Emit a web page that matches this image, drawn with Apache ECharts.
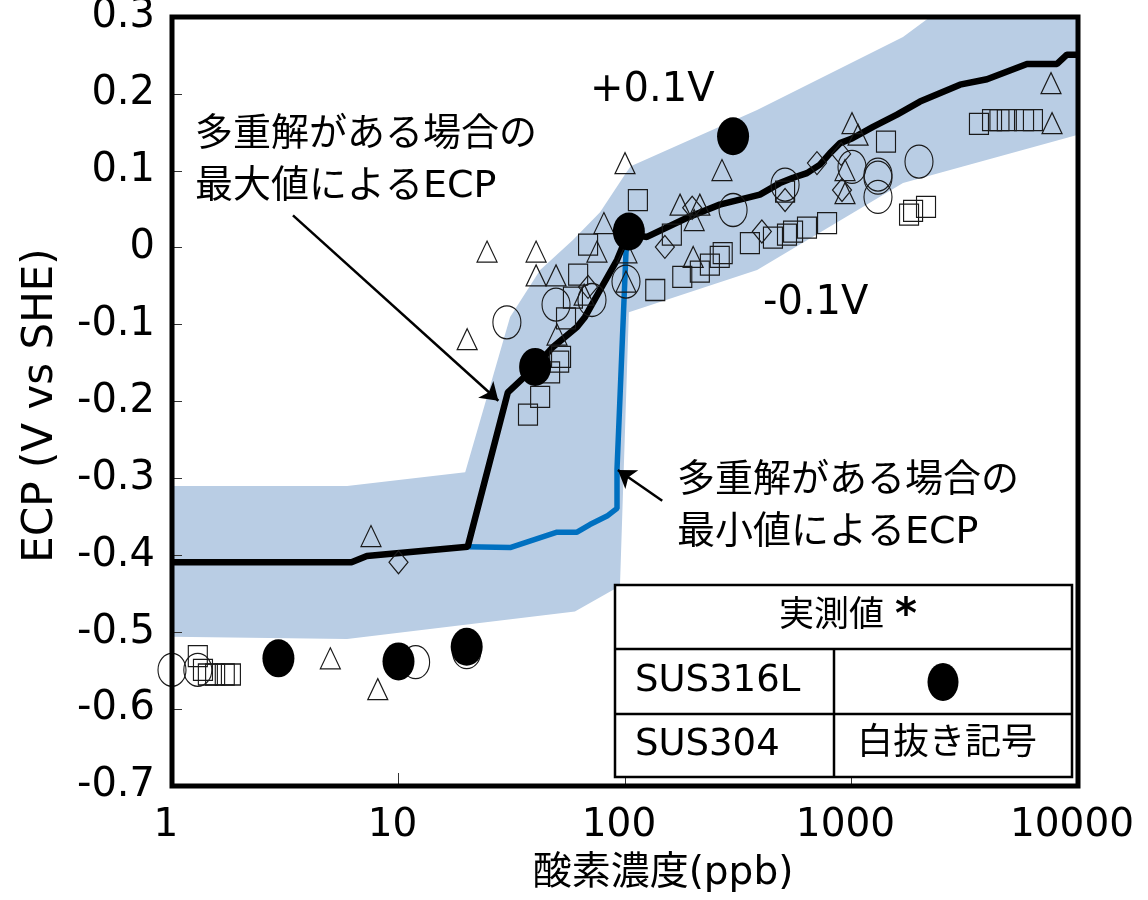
<!DOCTYPE html>
<html>
<head>
<meta charset="utf-8">
<script src="https://cdn.jsdelivr.net/npm/echarts@6/dist/echarts.min.js"></script>
<style>
html,body{margin:0;padding:0;background:#fff;}
#chart{width:1148px;height:900px;}
</style>
</head>
<body>
<div id="chart"></div>
<script>
// ---- data (oxygen concentration ppb, ECP V vs SHE) ----
const xTicks = [1, 10, 100, 1000, 10000];
const yTicks = [-0.7, -0.6, -0.5, -0.4, -0.3, -0.2, -0.1, 0, 0.1, 0.2, 0.3];

// ±0.1 V band: upper edge (left→right), lower edge (right→left)
const bandUpper = [[1,-0.310],[5.93,-0.310],[19.7,-0.292],[25.9,-0.171],[31.1,-0.090],[42.2,-0.029],[58.9,0.010],[77.6,0.046],[101,0.097],[106,0.106],[383,0.179],[1688,0.274],[2222,0.3],[10000,0.3]];
const bandLower = [[10000,0.147],[1688,0.084],[383,-0.029],[104,-0.084],[95,-0.440],[60.1,-0.473],[5.93,-0.509],[1,-0.506]];

// ECP by maximum of multiple solutions (black)
const ecpMax = [[1,-0.409],[6.2,-0.409],[7.25,-0.401],[20.2,-0.389],[30.4,-0.188],[40.1,-0.155],[48.1,-0.129],[61.4,-0.103],[66.6,-0.090],[77.6,-0.055],[92.2,-0.016],[103,0.018],[125,0.014],[188,0.039],[262,0.056],[394,0.069],[483,0.084],[552,0.091],[636,0.097],[726,0.108],[804,0.123],[890,0.136],[1005,0.142],[1244,0.157],[1588,0.173],[2006,0.190],[3014,0.212],[3963,0.219],[5954,0.239],[8079,0.239],[8936,0.251],[10000,0.251]];
// ECP by minimum of multiple solutions (blue)
const ecpMin = [[20.2,-0.389],[31.1,-0.390],[50.1,-0.370],[61.4,-0.370],[70.0,-0.360],[83.3,-0.349],[92.2,-0.339],[92.2,-0.288],[101,-0.006],[104,0.018]];

// measured values
const sus316L = [[2.95,-0.534],[10,-0.538],[20,-0.519],[40.1,-0.155],[104,0.021],[300,0.145]];
const triangles = [[5.0,-0.534],[8.1,-0.574],[7.56,-0.375],[20.1,-0.119],[24.6,-0.005],[40.5,-0.005],[40.5,-0.036],[49.6,-0.036],[50.1,-0.113],[66,-0.061],[75.2,-0.005],[80.7,0.032],[100,0.110],[101,-0.044],[102,-0.006],[175,0.056],[214,0.056],[202,0.036],[200,-0.012],[268,0.101],[1005,0.162],[1069,0.147],[936,0.101],[936,0.071],[7600,0.214],[7680,0.162]];
const squares = [[1.30,-0.531],[1.37,-0.549],[1.44,-0.555],[1.55,-0.555],[1.71,-0.555],[1.82,-0.555],[37.3,-0.217],[42.2,-0.194],[46.7,-0.162],[51.2,-0.148],[52.2,-0.142],[54.9,-0.092],[58.9,-0.065],[62.1,-0.035],[68.7,0.004],[114,0.062],[136,-0.055],[161,0.017],[179,-0.038],[214,-0.031],[237,-0.022],[262,-0.012],[270,-0.007],[356,0.006],[450,0.013],[519,0.017],[552,0.021],[636,0.026],[780,0.032],[509,0.073],[1420,0.138],[1795,0.043],[1870,0.048],[2133,0.053],[3654,0.161],[4173,0.166],[4500,0.166],[4850,0.166],[5778,0.166],[6325,0.166]];
const circles = [[1.0,-0.549],[1.30,-0.549],[11.9,-0.539],[20,-0.526],[30.1,-0.097],[49.6,-0.074],[71.5,-0.068],[101,-0.044],[300,0.049],[509,0.082],[1005,0.105],[1309,0.095],[1309,0.091],[1309,0.066],[1986,0.112]];
const diamonds = [[10,-0.409],[68.7,-0.051],[198,0.052],[150,0.001],[402,0.021],[509,0.062],[704,0.110],[900,0.122],[908,0.075]];

// annotation arrows [from, to] in data coordinates
const arrows = [[[3.42,0.042],[27.6,-0.199]], [[146,-0.329],[93,-0.289]]];

const FONT = '"DejaVu Sans", "Noto Sans CJK JP", sans-serif';
const chart = echarts.init(document.getElementById('chart'));

function hollow(name, data, symbol, size) {
  return {
    name, type: 'scatter', data, symbol, symbolSize: size, z: 4,
    itemStyle: { color: 'rgba(0,0,0,0)', borderColor: '#1a1a1a', borderWidth: 1.2, opacity: 1 },
    silent: true
  };
}

const option = {
  animation: false,
  backgroundColor: '#fff',
  grid: { left: 172, right: 70, top: 17, bottom: 114, show: true, borderColor: '#000', borderWidth: 5,
    backgroundColor: 'transparent', z: 10, outerBoundsMode: 'none', containLabel: false },
  xAxis: {
    type: 'log', logBase: 10, min: 1, max: 10000, z: 3,
    name: '酸素濃度(ppb)', nameLocation: 'middle', nameGap: 68,
    nameTextStyle: { fontSize: 39, fontFamily: FONT, color: '#000', padding: [0, 0, 0, 76] },
    axisLine: { show: false, onZero: false },
    axisTick: { show: true, inside: true, length: 13, lineStyle: { color: '#333', width: 1 } },
    minorTick: { show: false },
    splitLine: { show: false },
    axisLabel: { fontSize: 39, fontFamily: FONT, color: '#000', margin: 20, padding: [0, 12, 0, 0],
      formatter: v => String(Math.round(v)) }
  },
  yAxis: {
    type: 'value', min: -0.7, max: 0.3, interval: 0.1, z: 3,
    name: 'ECP (V vs SHE)', nameLocation: 'middle', nameGap: 110,
    nameTextStyle: { fontSize: 42, fontFamily: FONT, color: '#000', padding: [0, 8, 0, 0] },
    axisLine: { show: false, onZero: false },
    axisTick: { show: true, inside: true, length: 10, lineStyle: { color: '#333', width: 1 } },
    splitLine: { show: false },
    axisLabel: { fontSize: 40, fontFamily: FONT, color: '#000', margin: 17, padding: [14, 0, 0, 0],
      formatter: v => String(Math.round(v * 10) / 10) }
  },
  series: [
    {
      name: 'band', type: 'custom', z: 1, silent: true,
      data: [[1, 0]],
      renderItem: function (params, api) {
        const pts = bandUpper.concat(bandLower).map(p => api.coord(p));
        return { type: 'polygon', shape: { points: pts }, style: { fill: '#b9cde4' } };
      }
    },
    {
      name: 'min', type: 'line', data: ecpMin, showSymbol: false, z: 4, silent: true,
      lineStyle: { color: '#0070c0', width: 5.5 }
    },
    {
      name: 'max', type: 'line', data: ecpMax, showSymbol: false, z: 4, silent: true,
      lineStyle: { color: '#000', width: 6.5 },
      markLine: {
        silent: true, symbol: ['none', 'arrow'], symbolSize: 17, animation: false,
        label: { show: false },
        lineStyle: { color: '#000', width: 2.5, type: 'solid' },
        emphasis: { disabled: true },
        data: arrows.map(a => [{ coord: a[0] }, { coord: a[1] }])
      }
    },
    hollow('triangles', triangles, 'triangle', [20, 21]),
    hollow('squares', squares, 'rect', [19, 21]),
    hollow('circles', circles, 'circle', [28, 33]),
    hollow('diamonds', diamonds, 'diamond', [19, 23]),
    {
      name: 'SUS316L', type: 'scatter', data: sus316L, symbol: 'circle', symbolSize: [32, 38], z: 5, silent: true,
      itemStyle: { color: '#000', opacity: 1 }
    }
  ],
  graphic: [
    { type: 'text', x: 590, y: 91, z: 50, style: { text: '+0.1V', fontSize: 40, fontFamily: FONT, fill: '#000', align: 'left', verticalAlign: 'middle' } },
    { type: 'text', x: 763, y: 304, z: 50, style: { text: '-0.1V', fontSize: 40, fontFamily: FONT, fill: '#000', align: 'left', verticalAlign: 'middle' } },
    { type: 'text', x: 195, y: 109, z: 50, style: { text: '多重解がある場合の\n最大値によるECP', fontSize: 38, lineHeight: 52, fontFamily: FONT, fill: '#000', align: 'left', verticalAlign: 'top' } },
    { type: 'text', x: 677, y: 455, z: 50, style: { text: '多重解がある場合の\n最小値によるECP', fontSize: 38, lineHeight: 52, fontFamily: FONT, fill: '#000', align: 'left', verticalAlign: 'top' } },
    {
      type: 'group', z: 60, children: [
        { type: 'rect', z: 60, shape: { x: 615, y: 585, width: 457, height: 192 }, style: { fill: '#fff', stroke: '#000', lineWidth: 2.5 } },
        { type: 'line', z: 61, shape: { x1: 615, y1: 649, x2: 1072, y2: 649 }, style: { stroke: '#000', lineWidth: 2.5 } },
        { type: 'line', z: 61, shape: { x1: 615, y1: 714, x2: 1072, y2: 714 }, style: { stroke: '#000', lineWidth: 2.5 } },
        { type: 'line', z: 61, shape: { x1: 834, y1: 649, x2: 834, y2: 777 }, style: { stroke: '#000', lineWidth: 2.5 } },
        { type: 'text', z: 62, x: 848, y: 617, style: { text: '{a|実測値 }{b|*}', fill: '#000', align: 'center', verticalAlign: 'middle',
            rich: { a: { fontSize: 35, fontFamily: FONT }, b: { fontSize: 42, fontWeight: 'bold', fontFamily: FONT } } } },
        { type: 'text', z: 62, x: 635, y: 681, style: { text: 'SUS316L', fontSize: 37, fontFamily: FONT, fill: '#000', align: 'left', verticalAlign: 'middle' } },
        { type: 'text', z: 62, x: 635, y: 745, style: { text: 'SUS304', fontSize: 37, fontFamily: FONT, fill: '#000', align: 'left', verticalAlign: 'middle' } },
        { type: 'ellipse', z: 62, shape: { cx: 943, cy: 682, rx: 15.5, ry: 19 }, style: { fill: '#000' } },
        { type: 'text', z: 62, x: 947, y: 745, style: { text: '白抜き記号', fontSize: 36, fontFamily: FONT, fill: '#000', align: 'center', verticalAlign: 'middle' } }
      ]
    }
  ]
};
chart.setOption(option);
</script>
</body>
</html>
